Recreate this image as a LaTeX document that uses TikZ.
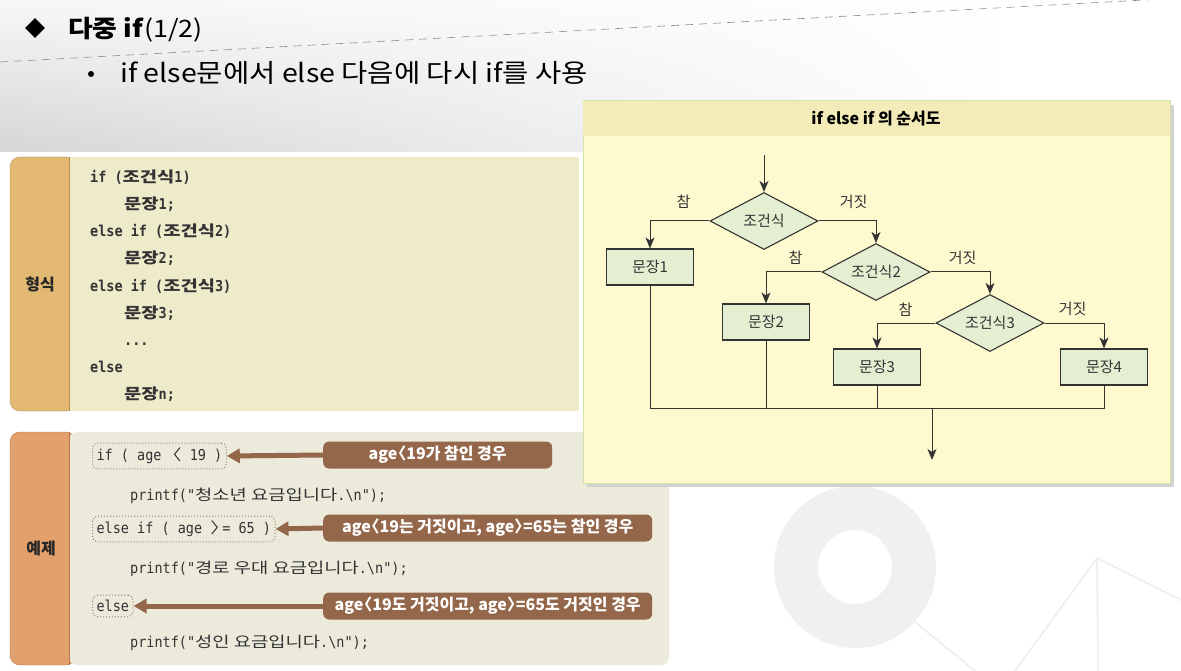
\documentclass[tikz,border=0pt]{standalone}
\usepackage{fontspec}
\setmainfont{Noto Sans CJK KR}
\newfontfamily\headfont[FakeStretch=1.12]{Noto Sans CJK KR}
\newfontfamily\codett[FakeStretch=0.9]{DejaVu Sans Mono}
\newfontfamily\codehk[FakeStretch=1.25]{Noto Sans CJK KR}
\newcommand{\hk}[1]{{\codehk #1}}
\newcommand{\lbrk}{\kern-.45em〈}
\newcommand{\rbrk}{〉\kern-.45em}
\usetikzlibrary{positioning, arrows.meta, shapes.geometric, fadings}
\definecolor{tabGold}{RGB}{226,184,115}
\definecolor{tabGoldLine}{RGB}{188,144,82}
\definecolor{tabOrange}{RGB}{226,160,108}
\definecolor{tabOrangeLine}{RGB}{184,120,78}
\definecolor{formBg}{RGB}{238,235,203}
\definecolor{exBg}{RGB}{235,234,219}
\definecolor{noteBrown}{RGB}{148,102,74}
\definecolor{panelBg}{RGB}{255,249,208}
\definecolor{panelHead}{RGB}{243,236,184}
\definecolor{panelLine}{RGB}{208,228,168}
\definecolor{boxGreen}{RGB}{228,239,210}
\definecolor{inkGrey}{RGB}{51,51,51}

\tikzset{
  stmt/.style={draw=inkGrey, fill=boxGreen, line width=1.1pt, minimum width=87pt, minimum height=36pt, inner sep=0pt, text=inkGrey, font=\fontsize{15}{15}\selectfont},
  decision/.style={diamond, draw=inkGrey, fill=boxGreen, line width=1.1pt, minimum width=108pt, minimum height=57pt, aspect=2, inner sep=0pt, text=inkGrey, font=\fontsize{15}{15}\selectfont},
  branch/.style={inner sep=0pt, text=inkGrey, font=\fontsize{15}{15}\selectfont},
  flow/.style={draw=inkGrey, line width=1pt, -{Stealth[length=11pt,width=9pt,inset=3pt]}},
  wire/.style={draw=inkGrey, line width=1pt},
  code/.style={anchor=base west, inner sep=0pt, text=inkGrey, font=\codett\fontsize{15}{15}\selectfont},
  formcode/.style={code, font=\codett\bfseries\fontsize{15}{15}\selectfont},
  markbox/.style={draw=noteBrown!85, dotted, line width=1pt, rounded corners=5pt, anchor=west, inner xsep=4pt, inner ysep=5pt, text=inkGrey, font=\codett\fontsize{15}{15}\selectfont},
  note/.style={fill=noteBrown, rounded corners=6pt, anchor=west, text=white, minimum height=27pt, inner sep=0pt, font=\bfseries\fontsize{16}{16}\selectfont},
  pointer/.style={draw=noteBrown, line width=5pt, -{Triangle[length=13pt,width=14pt]}},
  tablabel/.style={inner sep=0pt, text=black!85, font=\bfseries\fontsize{16}{16}\selectfont}
}

\begin{document}
\begin{tikzpicture}[x=1pt, y=-1pt]
    \useasboundingbox (0,0) rectangle (1181,671);
    \fill[white] (0,0) rectangle (1181,671);

    % background decoration
    \shade[top color=black!3, bottom color=black!16, path fading=east] (0,0) rectangle (1000,152);
    \draw[black!45, dash pattern=on 8pt off 6pt, line width=0.6pt] (0,62) -- (1181,-2);
    \fill[black!6, even odd rule] (855,567) circle[radius=81pt] (855,567) circle[radius=37pt];
    \draw[black!7, line width=1.5pt] (915,622) -- (975,671);
    \draw[black!7, line width=1.5pt] (1015,671) -- (1097,558) -- (1181,600);
    \draw[black!7, line width=1.5pt] (1097,558) -- (1098,671);

    % title
    \node[diamond, fill=black, minimum size=20pt, inner sep=0pt] (bullet) at (35,28) {};
    \node[anchor=base west, inner sep=0pt, font=\headfont\fontsize{24}{24}\selectfont] (title) at (68,38) {\textbf{다중 if}(1/2)};
    \node[circle, fill=black, minimum size=6pt, inner sep=0pt] (dot) at (91,74) {};
    \node[anchor=base west, inner sep=0pt, font=\headfont\fontsize{25.5}{25.5}\selectfont] (subtitle) at (120,83) {if else문에서 else 다음에 다시 if를 사용};

    % format box
    \filldraw[fill=tabGold, draw=tabGoldLine, rounded corners=10pt] (10,157) rectangle (76,411);
    \fill[formBg] (69,157) rectangle (579,411);
    \draw[tabGoldLine, line width=1pt] (69,157) -- (69,411);
    \node[tablabel] (form) at (40,284) {형식};
    \node[formcode] (fm1) at (90,183) {if (\hk{조건식}1)};
    \node[formcode] (fm2) at (124,210) {\hk{문장}1;};
    \node[formcode] (fm3) at (90,237) {else if (\hk{조건식}2)};
    \node[formcode] (fm4) at (124,264) {\hk{문장}2;};
    \node[formcode] (fm5) at (90,291) {else if (\hk{조건식}3)};
    \node[formcode] (fm6) at (124,318) {\hk{문장}3;};
    \node[formcode] (fm7) at (124,345) {...};
    \node[formcode] (fm8) at (90,372) {else};
    \node[formcode] (fm9) at (124,399) {\hk{문장}n;};

    % example box
    \filldraw[fill=tabOrange, draw=tabOrangeLine, rounded corners=10pt] (10,432) rectangle (76,665);
    \fill[exBg, rounded corners=8pt] (69,432) rectangle (669,665);
    \draw[tabOrangeLine, line width=1pt] (69,432) -- (69,665);
    \node[tablabel] (example) at (41,548) {예제};
    \node[markbox] (if1) at (92,456) {if ( age \hk{\lbrk} 19 )};
    \node[code] (pr1) at (130,500) {printf("\hk{청소년 요금입니다}.\textbackslash n");};
    \node[markbox] (if2) at (92,529) {else if ( age \hk{\rbrk}= 65 )};
    \node[code] (pr2) at (130,573) {printf("\hk{경로 우대 요금입니다}.\textbackslash n");};
    \node[markbox] (if3) at (92,606) {else};
    \node[code] (pr3) at (130,647) {printf("\hk{성인 요금입니다}.\textbackslash n");};

    % notes with pointers
    \node[note, minimum width=229pt] (n1) at (323,455) {age\lbrk 19가 참인 경우};
    \node[note, minimum width=329pt] (n2) at (323,528) {age\lbrk 19는 거짓이고, age\rbrk=65는 참인 경우};
    \node[note, minimum width=329pt] (n3) at (323,606) {age\lbrk 19도 거짓이고, age\rbrk=65도 거짓인 경우};
    \draw[pointer] (n1.west) -- (if1.east);
    \draw[pointer] (n2.west) -- (if2.east);
    \draw[pointer] (n3.west) -- (if3.east);

    % flowchart panel
    \fill[black!18] (587,105) rectangle (1174,487);
    \filldraw[fill=panelBg, draw=panelLine, line width=1pt] (583,101) rectangle (1170,483);
    \fill[panelHead] (583,101) rectangle (1170,136);
    \node[font=\bfseries\fontsize{16}{16}\selectfont, inner sep=0pt] (head) at (876,119) {if else if 의 순서도};

    % flowchart nodes
    \coordinate (entry) at (764,155);
    \node[decision] (c1) at (764,221) {조건식};
    \node[stmt] (s1) at (650,267) {문장1};
    \node[decision] (c2) at (876,272) {조건식2};
    \node[stmt] (s2) at (766,322) {문장2};
    \node[decision] (c3) at (990,323) {조건식3};
    \node[stmt] (s3) at (877,367) {문장3};
    \node[stmt] (s4) at (1104,367) {문장4};
    \coordinate (join) at (932,408);
    \coordinate (exit) at (932,460);

    % branch labels
    \node[branch] (yes1) at ([shift={(-26,-19)}]c1.west) {참};
    \node[branch] (no1) at ([shift={(35,-19)}]c1.east) {거짓};
    \node[branch] (yes2) at ([shift={(-26,-14)}]c2.west) {참};
    \node[branch] (no2) at ([shift={(32,-14)}]c2.east) {거짓};
    \node[branch] (yes3) at ([shift={(-30,-13)}]c3.west) {참};
    \node[branch] (no3) at ([shift={(28,-14)}]c3.east) {거짓};

    % flowchart arrows
    \draw[flow] (entry) -- (c1.north);
    \draw[flow] (c1.west) -| (s1.north);
    \draw[flow] (c1.east) -| (c2.north);
    \draw[flow] (c2.west) -| (s2.north);
    \draw[flow] (c2.east) -| (c3.north);
    \draw[flow] (c3.west) -| (s3.north);
    \draw[flow] (c3.east) -| (s4.north);
    \draw[wire] (s1.south) -- (s1.south |- join) -- (s4.south |- join) -- (s4.south);
    \draw[wire] (s2.south) -- (s2.south |- join);
    \draw[wire] (s3.south) -- (s3.south |- join);
    \draw[flow] (join) -- (exit);
\end{tikzpicture}
\end{document}
